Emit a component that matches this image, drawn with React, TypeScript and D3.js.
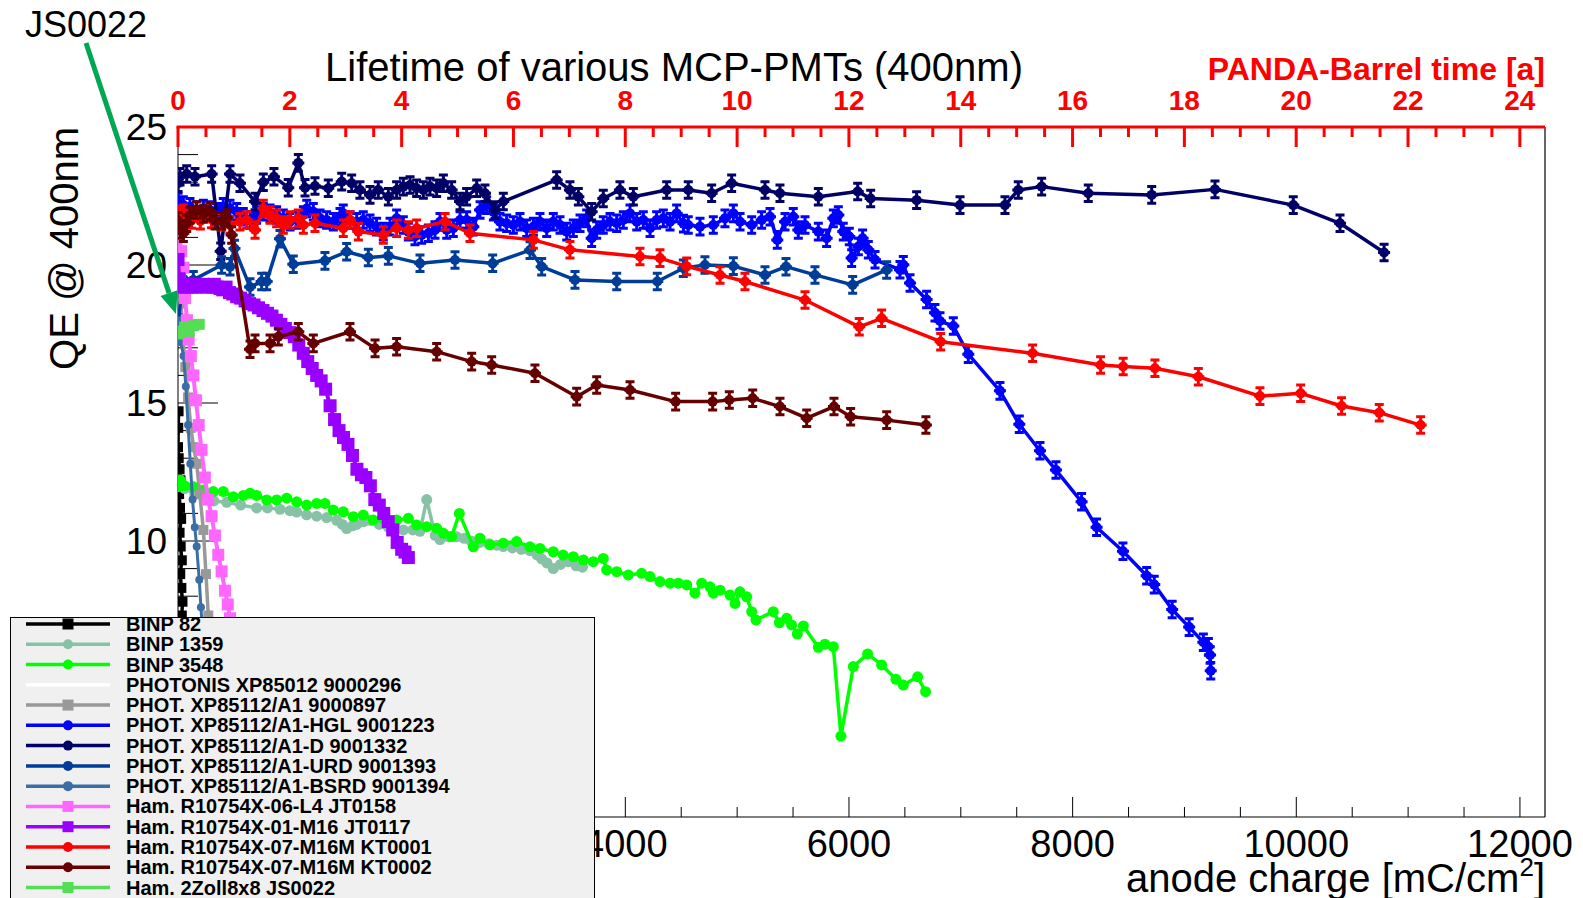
import React, { useEffect, useRef } from 'react';
import * as d3 from 'd3';

type Pt = [number, number];

// anode charge [mC/cm2] vs QE @ 400nm
const binp82: Pt[] = [[5, 14.7], [2, 14.1], [0, 13.4], [6, 13.0], [14, 12.6], [22, 12.2], [10, 11.7], [18, 11.2], [28, 10.8], [14, 10.3], [24, 9.8], [34, 9.3], [20, 8.8], [30, 8.3], [40, 7.8], [34, 7.3], [44, 6.8], [50, 6.2], [56, 5.5]];

const binp1359: Pt[] = [[0, 12.1], [60, 11.9], [150, 11.7], [227, 11.6], [320, 11.45], [435, 11.4], [560, 11.3], [703, 11.2], [800, 11.2], [912, 11.15], [1000, 11.1], [1061, 11.05], [1150, 10.95], [1240, 10.9], [1330, 10.85], [1419, 10.75], [1470, 10.6], [1508, 10.45], [1560, 10.55], [1598, 10.6], [1660, 10.7], [1717, 10.75], [1800, 10.6], [1880, 10.5], [1950, 10.45], [2015, 10.4], [2100, 10.4], [2164, 10.35], [2224, 11.5], [2300, 10.2], [2343, 10.05], [2420, 10.15], [2492, 10.15], [2560, 10.1], [2620, 10.0], [2700, 9.95], [2780, 9.9], [2850, 9.85], [2909, 9.8], [2990, 9.75], [3070, 9.7], [3147, 9.65], [3210, 9.5], [3252, 9.35], [3300, 9.2], [3356, 9.0], [3420, 9.15], [3490, 9.25], [3560, 9.1], [3617, 9.05]];

const binp3548: Pt[] = [[0, 11.97], [18, 12.21], [60, 12.0], [137, 11.97], [227, 11.85], [316, 11.79], [405, 11.79], [495, 11.6], [584, 11.65], [644, 11.73], [703, 11.65], [793, 11.49], [882, 11.49], [972, 11.55], [1061, 11.42], [1151, 11.3], [1240, 11.36], [1314, 11.36], [1389, 11.12], [1478, 11.06], [1568, 10.88], [1657, 10.94], [1747, 10.76], [1836, 10.82], [1955, 10.76], [2060, 10.82], [2134, 10.58], [2224, 10.52], [2313, 10.46], [2373, 10.28], [2447, 10.16], [2516, 11.0], [2641, 9.79], [2700, 10.1], [2790, 9.86], [2909, 9.92], [3028, 9.98], [3147, 9.79], [3237, 9.73], [3356, 9.61], [3445, 9.49], [3535, 9.43], [3625, 9.31], [3714, 9.25], [3803, 9.37], [3833, 8.95], [3923, 8.89], [4027, 8.77], [4146, 8.83], [4221, 8.71], [4310, 8.53], [4400, 8.47], [4474, 8.47], [4549, 8.41], [4623, 8.11], [4683, 8.47], [4757, 8.34], [4787, 8.11], [4847, 8.22], [4936, 8.04], [4981, 7.74], [5025, 8.16], [5085, 7.98], [5130, 7.44], [5168, 7.14], [5323, 7.44], [5377, 7.04], [5443, 7.2], [5487, 6.96], [5538, 6.63], [5592, 6.92], [5726, 6.15], [5785, 6.26], [5860, 6.17], [5928, 2.93], [6039, 5.45], [6167, 5.91], [6292, 5.51], [6420, 4.99], [6486, 4.78], [6614, 5.08], [6685, 4.54]];

const photonis296: Pt[] = [];

const phot897: Pt[] = [[0, 23.0], [4, 22.0], [9, 21.0], [16, 19.8], [28, 18.6], [45, 17.4], [65, 16.3], [90, 15.2], [115, 14.1], [140, 13.4], [167, 12.8], [195, 11.7], [227, 10.4], [250, 8.8], [271, 7.3], [290, 6.0], [310, 4.8]];

const phot1223: Pt[] = [[0, 22.3], [48, 22.17], [107, 22.11], [167, 21.99], [227, 22.05], [286, 21.99], [346, 21.93], [405, 22.11], [465, 22.05], [525, 21.93], [584, 21.75], [644, 21.63], [703, 21.81], [763, 21.93], [823, 21.87], [882, 21.81], [942, 21.69], [1002, 21.57], [1061, 21.63], [1121, 21.81], [1151, 22.05], [1210, 21.93], [1270, 21.69], [1329, 21.63], [1389, 21.57], [1449, 21.75], [1478, 21.87], [1538, 21.63], [1598, 21.57], [1657, 21.63], [1717, 21.51], [1776, 21.39], [1836, 21.21], [1896, 21.39], [1955, 21.69], [2015, 21.45], [2060, 21.21], [2119, 21.03], [2179, 21.09], [2239, 21.15], [2298, 21.27], [2343, 21.57], [2403, 21.27], [2462, 21.33], [2522, 21.63], [2581, 21.63], [2641, 21.39], [2701, 21.99], [2760, 22.17], [2820, 21.93], [2879, 21.57], [2939, 21.51], [2999, 21.45], [3058, 21.57], [3118, 21.33], [3178, 21.39], [3237, 21.57], [3297, 21.33], [3356, 21.57], [3416, 21.45], [3476, 21.21], [3535, 21.33], [3595, 21.51], [3654, 21.69], [3699, 20.97], [3744, 21.27], [3803, 21.45], [3863, 21.57], [3923, 21.51], [3982, 21.63], [4042, 21.87], [4102, 21.57], [4161, 21.63], [4221, 21.33], [4280, 21.63], [4340, 21.69], [4400, 21.57], [4459, 21.87], [4520, 21.5], [4563, 21.45], [4668, 21.39], [4787, 21.45], [4891, 21.69], [4966, 21.87], [5026, 21.57], [5130, 21.45], [5219, 21.63], [5294, 21.75], [5359, 20.91], [5428, 21.57], [5502, 21.75], [5547, 21.27], [5607, 21.45], [5726, 21.21], [5800, 20.97], [5860, 21.69], [5905, 21.81], [5949, 21.21], [6003, 21.03], [6024, 20.25], [6084, 20.67], [6122, 20.97], [6173, 20.55], [6233, 20.19], [6456, 19.83], [6486, 20.01], [6546, 19.35], [6694, 18.75], [6769, 18.27], [6814, 17.97], [6933, 17.79], [7067, 16.77], [7350, 15.44], [7523, 14.23], [7708, 13.27], [7851, 12.57], [8080, 11.42], [8214, 10.5], [8450, 9.63], [8662, 8.74], [8730, 8.42], [8890, 7.52], [9042, 6.88], [9169, 6.33], [9214, 6.17], [9229, 5.87], [9235, 5.3]];

const phot1332: Pt[] = [[0, 22.96], [18, 23.2], [78, 23.3], [152, 23.2], [301, 23.3], [382, 20.5], [465, 23.3], [554, 22.96], [689, 22.3], [763, 23.0], [858, 23.2], [986, 22.8], [1076, 23.7], [1136, 22.8], [1225, 22.86], [1344, 22.78], [1464, 23.02], [1553, 22.96], [1627, 22.72], [1717, 22.54], [1791, 22.72], [1881, 22.47], [1955, 22.72], [2015, 22.84], [2075, 22.9], [2134, 22.78], [2194, 22.72], [2253, 22.84], [2313, 22.78], [2373, 22.96], [2447, 22.72], [2522, 22.3], [2581, 22.47], [2671, 22.78], [2745, 22.6], [2835, 21.99], [2909, 22.3], [3386, 23.08], [3505, 22.72], [3580, 22.47], [3699, 21.93], [3803, 22.41], [3952, 22.72], [4072, 22.47], [4370, 22.72], [4563, 22.72], [4772, 22.6], [4951, 22.96], [5249, 22.72], [5383, 22.6], [5726, 22.47], [6078, 22.66], [6194, 22.41], [6605, 22.35], [6993, 22.17], [7395, 22.17], [7514, 22.72], [7723, 22.84], [8140, 22.6], [8707, 22.54], [9273, 22.74], [9973, 22.17], [10391, 21.51], [10785, 20.45]];

const phot1393: Pt[] = [[0, 17.9], [48, 19.5], [137, 19.46], [390, 20.0], [465, 19.94], [505, 20.6], [644, 19.2], [748, 19.4], [793, 19.4], [912, 20.95], [1031, 20.03], [1314, 20.15], [1508, 20.48], [1702, 20.27], [1881, 20.33], [2164, 20.06], [2477, 20.18], [2814, 20.06], [3148, 20.54], [3252, 19.94], [3550, 19.46], [3923, 19.4], [4286, 19.4], [4519, 19.88], [4712, 20.0], [4966, 19.96], [5249, 19.64], [5437, 19.94], [5696, 19.64], [6033, 19.28], [6337, 19.82]];

const phot1394: Pt[] = [[0, 18.0], [25, 17.2], [50, 16.7], [70, 15.6], [90, 14.2], [110, 12.8], [130, 11.5], [150, 10.5], [167, 9.8], [190, 8.6], [205, 7.6], [225, 6.4], [250, 5.0]];

const hamJT0158: Pt[] = [[0, 21.8], [12, 21.2], [28, 20.5], [48, 19.9], [63, 18.8], [80, 18.0], [95, 17.3], [115, 16.7], [137, 16.0], [160, 15.1], [185, 14.2], [210, 13.3], [240, 12.3], [270, 11.5], [300, 10.9], [330, 10.2], [360, 9.5], [390, 8.9], [420, 8.2], [445, 7.7], [465, 7.2], [490, 6.6], [520, 5.9], [550, 5.2]];

const hamJT0117: Pt[] = [[0, 20.2], [10, 19.5], [25, 19.2], [50, 19.3], [75, 19.2], [100, 19.3], [125, 19.2], [150, 19.3], [175, 19.2], [200, 19.25], [225, 19.3], [250, 19.2], [275, 19.25], [300, 19.2], [325, 19.3], [350, 19.2], [375, 19.15], [400, 19.1], [430, 19.2], [460, 19.0], [490, 18.95], [525, 18.85], [560, 18.8], [600, 18.7], [640, 18.6], [680, 18.55], [720, 18.45], [760, 18.35], [800, 18.25], [840, 18.15], [880, 18.0], [920, 17.85], [960, 17.7], [1000, 17.55], [1040, 17.4], [1080, 17.1], [1120, 16.8], [1160, 16.5], [1200, 16.25], [1240, 16.0], [1280, 15.8], [1320, 15.5], [1360, 14.9], [1400, 14.4], [1440, 14.0], [1480, 13.75], [1520, 13.5], [1560, 13.1], [1600, 12.6], [1640, 12.4], [1680, 12.3], [1720, 12.0], [1760, 11.5], [1800, 11.3], [1840, 11.0], [1880, 10.7], [1920, 10.4], [1960, 9.95], [2000, 9.7], [2030, 9.6], [2060, 9.4]];

const hamKT0001: Pt[] = [[0, 21.7], [12, 21.81], [48, 21.87], [77, 21.69], [122, 21.63], [200, 21.6], [300, 21.65], [390, 21.57], [465, 21.45], [554, 21.57], [614, 21.63], [689, 21.27], [763, 22.05], [823, 21.81], [882, 21.69], [942, 21.45], [1002, 21.63], [1076, 21.69], [1121, 21.45], [1225, 21.51], [1478, 21.33], [1538, 21.63], [1613, 21.21], [1836, 21.09], [1955, 21.33], [2060, 21.27], [2134, 21.33], [2388, 21.57], [2611, 21.15], [3178, 20.91], [3505, 20.55], [4131, 20.31], [4310, 20.25], [4549, 19.95], [4847, 19.64], [5070, 19.4], [5607, 18.73], [6092, 17.76], [6292, 18.07], [6820, 17.22], [7642, 16.8], [8250, 16.38], [8452, 16.32], [8736, 16.26], [9124, 15.95], [9675, 15.25], [10039, 15.35], [10405, 14.89], [10742, 14.65], [11112, 14.2]];

const hamKT0002: Pt[] = [[0, 21.6], [20, 21.27], [48, 21.15], [78, 21.51], [107, 21.81], [167, 21.99], [227, 21.85], [286, 21.95], [331, 21.6], [390, 21.6], [440, 21.7], [480, 21.09], [644, 16.95], [689, 17.16], [823, 17.16], [897, 17.4], [1076, 17.58], [1210, 17.16], [1538, 17.58], [1762, 16.98], [1955, 17.04], [2313, 16.86], [2626, 16.5], [2805, 16.38], [3192, 16.08], [3565, 15.23], [3744, 15.65], [4042, 15.47], [4450, 15.05], [4781, 15.05], [4930, 15.11], [5139, 15.17], [5383, 14.87], [5622, 14.45], [5866, 14.87], [6015, 14.5], [6337, 14.38], [6688, 14.2]];

const hamJS0022: Pt[] = [[0, 17.5], [25, 17.6], [60, 17.75], [100, 17.6], [140, 17.8], [190, 17.85]];

const xTicksMajor = [0, 2000, 4000, 6000, 8000, 10000, 12000];
const yTicksMajor = [5, 10, 15, 20, 25];
const topTicksMajor = [0, 2, 4, 6, 8, 10, 12, 14, 16, 18, 20, 22, 24];

type Marker = 'square' | 'circle' | 'none';
interface Series {
  name: string;
  data: Pt[];
  color: string;
  marker: Marker;
  size: number;
  width: number;
  errors: boolean;
}

const series: Series[] = [
  { name: 'BINP 82', data: binp82, color: '#000000', marker: 'square', size: 10, width: 3.5, errors: false },
  { name: 'BINP 1359', data: binp1359, color: '#88c2a6', marker: 'circle', size: 11, width: 3.5, errors: false },
  { name: 'BINP 3548', data: binp3548, color: '#00ff00', marker: 'circle', size: 11, width: 3.5, errors: false },
  { name: 'PHOTONIS XP85012 9000296', data: photonis296, color: '#ffffff', marker: 'none', size: 0, width: 3, errors: false },
  { name: 'PHOT. XP85112/A1 9000897', data: phot897, color: '#999999', marker: 'square', size: 10, width: 3.5, errors: false },
  { name: 'PHOT. XP85112/A1-HGL 9001223', data: phot1223, color: '#0000ff', marker: 'circle', size: 10, width: 3.5, errors: true },
  { name: 'PHOT. XP85112/A1-D 9001332', data: phot1332, color: '#000066', marker: 'circle', size: 10, width: 3.5, errors: true },
  { name: 'PHOT. XP85112/A1-URD 9001393', data: phot1393, color: '#003d99', marker: 'circle', size: 10, width: 3.5, errors: true },
  { name: 'PHOT. XP85112/A1-BSRD 9001394', data: phot1394, color: '#3a6ea5', marker: 'circle', size: 8, width: 3, errors: false },
  { name: 'Ham. R10754X-06-L4 JT0158', data: hamJT0158, color: '#ff66ff', marker: 'square', size: 12, width: 4, errors: false },
  { name: 'Ham. R10754X-01-M16 JT0117', data: hamJT0117, color: '#9900ff', marker: 'square', size: 13, width: 4, errors: false },
  { name: 'Ham. R10754X-07-M16M KT0001', data: hamKT0001, color: '#ff0000', marker: 'circle', size: 10, width: 3.5, errors: true },
  { name: 'Ham. R10754X-07-M16M KT0002', data: hamKT0002, color: '#660000', marker: 'circle', size: 10, width: 3.5, errors: true },
  { name: 'Ham. 2Zoll8x8 JS0022', data: hamJS0022, color: '#55dd55', marker: 'square', size: 11, width: 3.5, errors: false },
];

const W = 1583;
const H = 898;
const frame = { left: 178, right: 1545, top: 127, bottom: 817 };
const FONT = "'Liberation Sans', Arial, Helvetica, sans-serif";

const App: React.FC = () => {
  const svgRef = useRef<SVGSVGElement>(null);

  useEffect(() => {
    if (!svgRef.current) return;
    const svg = d3.select(svgRef.current);
    svg.selectAll('*').remove();

    const x = d3.scaleLinear().domain([0, 12224]).range([frame.left, frame.right]);
    const xTop = d3.scaleLinear().domain([0, 24.45]).range([frame.left, frame.right]);
    const y = d3.scaleLinear().domain([0, 25]).range([frame.bottom, frame.top]);

    svg.append('rect').attr('width', W).attr('height', H).attr('fill', '#fff');

    svg.append('defs').append('clipPath').attr('id', 'frameClip')
      .append('rect')
      .attr('x', frame.left).attr('y', frame.top)
      .attr('width', frame.right - frame.left).attr('height', frame.bottom - frame.top);

    // frame lines
    const axes = svg.append('g');
    axes.append('line')
      .attr('x1', frame.left).attr('x2', frame.left).attr('y1', frame.top).attr('y2', frame.bottom)
      .attr('stroke', '#000').attr('stroke-width', 1);
    axes.append('line')
      .attr('x1', frame.right).attr('x2', frame.right).attr('y1', frame.top).attr('y2', frame.bottom)
      .attr('stroke', '#333').attr('stroke-width', 1.5);
    axes.append('line')
      .attr('x1', frame.left).attr('x2', frame.right).attr('y1', frame.bottom).attr('y2', frame.bottom)
      .attr('stroke', '#000').attr('stroke-width', 1);

    // bottom axis ticks
    const xMinor = d3.range(0, 12001, 500);
    axes.selectAll('.xt').data(xMinor).join('line')
      .attr('x1', d => x(d)).attr('x2', d => x(d))
      .attr('y1', frame.bottom)
      .attr('y2', d => frame.bottom - (d % 2000 === 0 ? 20 : 10))
      .attr('stroke', '#000').attr('stroke-width', 1);
    axes.selectAll('.xl').data(xTicksMajor).join('text')
      .attr('x', d => x(d)).attr('y', 857)
      .attr('text-anchor', 'middle')
      .attr('font-family', FONT).attr('font-size', 38)
      .text(d => String(d));

    // left axis ticks
    const yMinor = d3.range(0, 26, 1);
    axes.selectAll('.yt').data(yMinor).join('line')
      .attr('x1', frame.left)
      .attr('x2', d => frame.left + (d % 5 === 0 ? 40 : 20))
      .attr('y1', d => y(d)).attr('y2', d => y(d))
      .attr('stroke', '#000').attr('stroke-width', 1);
    axes.selectAll('.yl').data(yTicksMajor).join('text')
      .attr('x', 167).attr('y', d => y(d) + 13)
      .attr('text-anchor', 'end')
      .attr('font-family', FONT).attr('font-size', 37)
      .text(d => String(d));

    // top red axis (PANDA-Barrel time)
    const topMinor = d3.range(0, 24.01, 0.5);
    axes.selectAll('.tt').data(topMinor).join('line')
      .attr('x1', d => xTop(d)).attr('x2', d => xTop(d))
      .attr('y1', frame.top)
      .attr('y2', d => frame.top + (d % 2 === 0 ? 20 : 10))
      .attr('stroke', '#ff0000').attr('stroke-width', 3);
    axes.append('line')
      .attr('x1', frame.left - 1.5).attr('x2', frame.right).attr('y1', frame.top).attr('y2', frame.top)
      .attr('stroke', '#ff0000').attr('stroke-width', 3);
    axes.selectAll('.tl').data(topTicksMajor).join('text')
      .attr('x', d => xTop(d)).attr('y', 110)
      .attr('text-anchor', 'middle')
      .attr('font-family', FONT).attr('font-size', 28).attr('font-weight', 'bold')
      .attr('fill', '#ff0000')
      .text(d => String(d));

    // data
    const plot = svg.append('g').attr('clip-path', 'url(#frameClip)');
    const line = d3.line<Pt>().x(d => x(d[0])).y(d => y(d[1]));

    series.forEach(s => {
      if (!s.data.length) return;
      const g = plot.append('g');
      g.append('path')
        .attr('d', line(s.data))
        .attr('fill', 'none')
        .attr('stroke', s.color)
        .attr('stroke-width', s.width)
        .attr('stroke-linejoin', 'round');
      if (s.errors) {
        const err = 0.3;
        g.selectAll('.eb').data(s.data).join('path')
          .attr('d', d => {
            const cx = x(d[0]);
            const y1 = y(d[1] - err);
            const y2 = y(d[1] + err);
            return `M${cx},${y1}L${cx},${y2}M${cx - 4.5},${y1}L${cx + 4.5},${y1}M${cx - 4.5},${y2}L${cx + 4.5},${y2}M${cx - 6},${y(d[1])}L${cx + 6},${y(d[1])}`;
          })
          .attr('stroke', s.color).attr('stroke-width', 3).attr('fill', 'none');
      }
      if (s.marker === 'circle') {
        g.selectAll('.mk').data(s.data).join('circle')
          .attr('cx', d => x(d[0])).attr('cy', d => y(d[1]))
          .attr('r', s.size / 2).attr('fill', s.color);
      } else if (s.marker === 'square') {
        g.selectAll('.mk').data(s.data).join('rect')
          .attr('x', d => x(d[0]) - s.size / 2).attr('y', d => y(d[1]) - s.size / 2)
          .attr('width', s.size).attr('height', s.size).attr('fill', s.color);
      }
    });

    // legend
    const lg = svg.append('g');
    lg.append('rect')
      .attr('x', 10.5).attr('y', 617.5).attr('width', 584).attr('height', 300)
      .attr('fill', '#f0f0f0').attr('stroke', '#000').attr('stroke-width', 1);
    const rowY = (i: number) => 624 + i * 20.27;
    series.forEach((s, i) => {
      const cy = rowY(i);
      lg.append('line')
        .attr('x1', 26).attr('x2', 110).attr('y1', cy).attr('y2', cy)
        .attr('stroke', s.color).attr('stroke-width', 3.5);
      if (s.marker === 'circle') {
        lg.append('circle').attr('cx', 68).attr('cy', cy).attr('r', 5).attr('fill', s.color);
      } else if (s.marker === 'square') {
        lg.append('rect').attr('x', 62.5).attr('y', cy - 5.5).attr('width', 11).attr('height', 11).attr('fill', s.color);
      }
      lg.append('text')
        .attr('x', 126).attr('y', cy + 7)
        .attr('font-family', FONT).attr('font-size', 20).attr('font-weight', 'bold')
        .attr('fill', '#000')
        .text(s.name);
    });

    // titles
    svg.append('text')
      .attr('x', 674).attr('y', 81)
      .attr('text-anchor', 'middle')
      .attr('font-family', FONT).attr('font-size', 40)
      .text('Lifetime of various MCP-PMTs (400nm)');
    svg.append('text')
      .attr('x', frame.right).attr('y', 80)
      .attr('text-anchor', 'end')
      .attr('font-family', FONT).attr('font-size', 32).attr('font-weight', 'bold')
      .attr('fill', '#ff0000')
      .text('PANDA-Barrel time [a]');
    const xt = svg.append('text')
      .attr('x', frame.right).attr('y', 892)
      .attr('text-anchor', 'end')
      .attr('font-family', FONT).attr('font-size', 40);
    xt.append('tspan').text('anode charge [mC/cm');
    xt.append('tspan').attr('font-size', 26).attr('dy', -16).text('2');
    xt.append('tspan').attr('dy', 16).text(']');
    svg.append('text')
      .attr('transform', `translate(78,${frame.top}) rotate(-90)`)
      .attr('text-anchor', 'end')
      .attr('font-family', FONT).attr('font-size', 40)
      .text('QE @ 400nm');

    // JS0022 annotation arrow
    svg.append('text')
      .attr('x', 25).attr('y', 37)
      .attr('font-family', FONT).attr('font-size', 36)
      .text('JS0022');
    const start: Pt = [86, 43];
    const tip: Pt = [176, 314];
    const dx = tip[0] - start[0];
    const dy = tip[1] - start[1];
    const len = Math.hypot(dx, dy);
    const ux = dx / len;
    const uy = dy / len;
    const base: Pt = [tip[0] - ux * 22, tip[1] - uy * 22];
    svg.append('line')
      .attr('x1', start[0]).attr('y1', start[1]).attr('x2', base[0]).attr('y2', base[1])
      .attr('stroke', '#00a651').attr('stroke-width', 5);
    svg.append('polygon')
      .attr('points', [
        tip,
        [base[0] - uy * 9, base[1] + ux * 9],
        [base[0] + uy * 9, base[1] - ux * 9],
      ].map(p => p.join(',')).join(' '))
      .attr('fill', '#00a651');
  }, []);

  return (
    <svg
      ref={svgRef}
      width={W}
      height={H}
      style={{ position: 'absolute', left: 0, top: 0, display: 'block' }}
    />
  );
};

export default App;
